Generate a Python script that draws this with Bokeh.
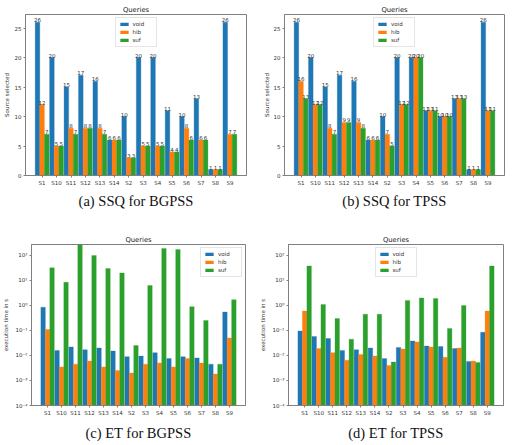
from bokeh.plotting import figure
from bokeh.layouts import row, column
from bokeh.models import (Range1d, FixedTicker, CustomJSTickFormatter, Title,
                          ColumnDataSource)
from bokeh.transform import dodge
from bokeh.embed import file_html
from bokeh.resources import INLINE
from bokeh.core.properties import value

categories = ["S1", "S10", "S11", "S12", "S13", "S14", "S2", "S3", "S4", "S5", "S6", "S7", "S8", "S9"]
series = ["void", "hib", "suf"]
colors = ["#1f77b4", "#ff7f0e", "#2ca02c"]

ssq_bgpss_void = [26, 20, 15, 17, 16, 6, 10, 20, 20, 11, 10, 13, 1, 26]
ssq_bgpss_hib = [12, 5, 8, 8, 8, 6, 3, 5, 5, 4, 8, 6, 1, 7]
ssq_bgpss_suf = [7, 5, 7, 8, 7, 6, 3, 5, 5, 4, 6, 6, 1, 7]

ssq_tpss_void = [26, 20, 15, 17, 16, 6, 10, 20, 20, 11, 10, 13, 1, 26]
ssq_tpss_hib = [16, 12, 8, 9, 9, 6, 7, 12, 20, 11, 10, 13, 1, 11]
ssq_tpss_suf = [13, 12, 7, 9, 8, 6, 5, 12, 20, 11, 10, 13, 1, 11]

et_bgpss_void = [0.85, 0.016, 0.022, 0.017, 0.02, 0.015, 0.009, 0.0095, 0.013, 0.0075, 0.009, 0.008, 0.0045, 0.55]
et_bgpss_hib = [0.11, 0.0035, 0.0045, 0.006, 0.0035, 0.0025, 0.002, 0.0045, 0.005, 0.0035, 0.0075, 0.005, 0.0018, 0.05]
et_bgpss_suf = [32, 8.5, 400, 100, 30, 20, 0.025, 6.3, 190, 175, 0.9, 0.25, 0.0045, 1.7]

et_tpss_void = [0.095, 0.057, 0.048, 0.016, 0.017, 0.02, 0.0075, 0.021, 0.038, 0.024, 0.023, 0.019, 0.0058, 0.085]
et_tpss_hib = [0.6, 0.019, 0.013, 0.0065, 0.011, 0.0095, 0.004, 0.018, 0.035, 0.022, 0.0085, 0.02, 0.006, 0.6]
et_tpss_suf = [38, 1.1, 0.3, 0.045, 0.45, 0.45, 0.0055, 1.6, 2.0, 1.9, 0.12, 1.0, 0.0052, 38]

captions = ["(a) SSQ for BGPSS", "(b) SSQ for TPSS", "(c) ET for BGPSS", "(d) ET for TPSS"]

LOG_START = 1e-4
LOG_END = 275
X_START, X_END = -1.15, 14.15
BAR_W = 0.32
OFFSETS = [-0.32, 0.0, 0.32]
TXT = "#333333"
FRAME = "#808080"
FS = "5.5px"

sup_code = """
const e = Math.round(Math.log10(tick));
const m = {'-':'\u207b','0':'\u2070','1':'\u00b9','2':'\u00b2','3':'\u00b3','4':'\u2074',
           '5':'\u2075','6':'\u2076','7':'\u2077','8':'\u2078','9':'\u2079'};
return '10' + String(e).split('').map(c => m[c]).join('');
"""


def panel(w, h, bl, br, bt, bb, vals, log, ylabel, caption, legend_loc, ylab_standoff,
          cap_standoff):
    if log:
        p = figure(width=w, height=h, output_backend="svg", toolbar_location=None, tools="",
                   y_axis_type="log", x_range=Range1d(X_START, X_END),
                   y_range=Range1d(LOG_START, LOG_END))
    else:
        p = figure(width=w, height=h, output_backend="svg", toolbar_location=None, tools="",
                   x_range=Range1d(X_START, X_END), y_range=Range1d(0, max(max(v) for v in vals) * 1.05))
    p.min_border_left = bl
    p.min_border_right = br
    p.min_border_top = bt
    p.min_border_bottom = bb

    data = dict(x=list(range(len(categories))))
    for name, v in zip(series, vals):
        data[name] = v
        data[name + "_lbl"] = [str(int(t)) for t in v]
    src = ColumnDataSource(data)

    for name, col, off in zip(series, colors, OFFSETS):
        kw = dict(x=dodge("x", off), top=name, width=BAR_W, source=src,
                  fill_color=col, line_color=col, line_width=0.3, legend_label=name)
        if log:
            kw["bottom"] = LOG_START
        p.vbar(**kw)
        if not log:
            p.text(x=dodge("x", off), y=name, text=name + "_lbl", source=src,
                   text_align="center", text_baseline="bottom", text_font_size=FS,
                   text_color=TXT, text_font=value("DejaVu Sans"))

    p.title.text = "Queries"
    p.title.align = "center"
    p.title.text_font = "DejaVu Sans"
    p.title.text_font_size = "6.8px"
    p.title.text_font_style = "normal"
    p.title.text_color = "#222222"
    p.title.standoff = 2

    p.add_layout(Title(text=caption, align="center", text_font="Liberation Serif",
                       text_font_size="14.5px", text_font_style="normal",
                       text_color="#111111", standoff=cap_standoff), "below")

    p.xgrid.visible = False
    p.ygrid.visible = False
    p.outline_line_color = FRAME
    p.outline_line_width = 1

    p.xaxis.ticker = FixedTicker(ticks=list(range(len(categories))))
    p.xaxis.formatter = CustomJSTickFormatter(args=dict(names=categories),
                                              code="return names[Math.round(tick)] || '';")
    if log:
        p.yaxis.ticker = FixedTicker(ticks=[1e-4, 1e-3, 1e-2, 1e-1, 1, 10, 100])
        p.yaxis.formatter = CustomJSTickFormatter(code=sup_code)
    else:
        p.yaxis.ticker = FixedTicker(ticks=[0, 5, 10, 15, 20, 25])

    for ax in (p.xaxis[0], p.yaxis[0]):
        ax.axis_line_color = FRAME
        ax.major_tick_line_color = FRAME
        ax.major_tick_out = 2
        ax.major_tick_in = 0
        ax.minor_tick_out = 0
        ax.minor_tick_in = 0
        ax.major_label_text_font_size = FS
        ax.major_label_text_font = "DejaVu Sans"
        ax.major_label_text_color = TXT
        ax.major_label_standoff = 2
    p.yaxis.axis_label = ylabel
    p.yaxis.axis_label_text_font_size = FS
    p.yaxis.axis_label_text_font_style = "normal"
    p.yaxis.axis_label_text_font = "DejaVu Sans"
    p.yaxis.axis_label_text_color = TXT
    p.yaxis.axis_label_standoff = ylab_standoff

    lg = p.legend[0]
    lg.location = legend_loc
    lg.label_text_font_size = FS
    lg.label_text_font = "DejaVu Sans"
    lg.label_text_color = TXT
    lg.glyph_width = 10
    lg.glyph_height = 4
    lg.label_height = 6
    lg.label_standoff = 4
    lg.spacing = 2
    lg.padding = 3
    lg.margin = 3
    lg.border_line_color = "#cccccc"
    lg.background_fill_alpha = 0.8
    return p


pa = panel(256, 222, 21, 10, 14, 47,
           [ssq_bgpss_void, ssq_bgpss_hib, ssq_bgpss_suf], False,
           "Source selected", captions[0], "top_center", 2, 4)
pb = panel(257, 222, 28, 9, 14, 47,
           [ssq_tpss_void, ssq_tpss_hib, ssq_tpss_suf], False,
           "Source selected", captions[1], "top_center", 1, 4)
pc = panel(256, 223, 25, 11, 22, 40,
           [et_bgpss_void, et_bgpss_hib, et_bgpss_suf], True,
           "execution time in s", captions[2], "top_right", 3, 8)
pd = panel(257, 223, 32, 10, 22, 40,
           [et_tpss_void, et_tpss_hib, et_tpss_suf], True,
           "execution time in s", captions[3], "top_center", 3, 8)

layout = column(row(pa, pb, spacing=0), row(pc, pd, spacing=0), spacing=0)
open("out.html", "w").write(file_html(layout, INLINE))
